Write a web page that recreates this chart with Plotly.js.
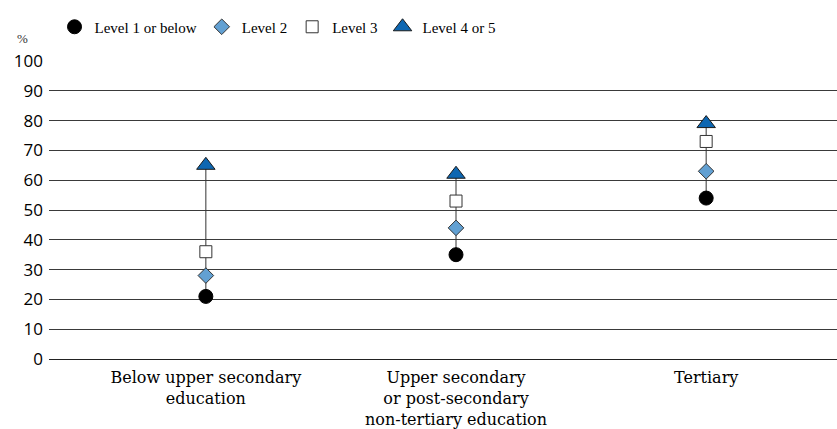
<!DOCTYPE html>
<html>
<head>
<meta charset="utf-8">
<script src="https://cdn.plot.ly/plotly-3.0.1.min.js"></script>
<style>html,body{margin:0;padding:0;background:#fff;}#chart{width:837px;height:429px;}</style>
</head>
<body>
<div id="chart"></div>
<script>
const categories = ['Below upper secondary<br>education', 'Upper secondary<br>or post-secondary<br>non-tertiary education', 'Tertiary'];
const seriesNames = ['Level 1 or below', 'Level 2', 'Level 3', 'Level 4 or 5'];
const level1 = [21, 35, 54];
const level2 = [28, 44, 63];
const level3 = [36, 53, 73];
const level45 = [65, 62, 79];
const yTicks = [0, 10, 20, 30, 40, 50, 60, 70, 80, 90, 100];

const allSeries = [level1, level2, level3, level45];
const lx = [], ly = [];
categories.forEach((c, i) => {
  const vals = allSeries.map(s => s[i]);
  lx.push(c, c, null);
  ly.push(Math.min(...vals), Math.max(...vals), null);
});

const styles = [
  {symbol: 'circle', size: 14, color: '#000000', line: {color: '#000000', width: 1}},
  {symbol: 'diamond', size: 12, color: '#62A0D2', line: {color: '#333333', width: 1}},
  {symbol: 'square', size: 12, color: '#FFFFFF', line: {color: '#333333', width: 1}},
  {symbol: 'triangle-up', size: 16, color: '#0E67B2', line: {color: '#1a1a1a', width: 1}}
];

const traces = [{
  x: lx, y: ly, mode: 'lines', line: {color: '#333333', width: 1},
  showlegend: false, hoverinfo: 'skip'
}];
allSeries.forEach((s, k) => {
  traces.push({
    x: categories, y: s, name: seriesNames[k], type: 'scatter', mode: 'markers',
    marker: styles[k]
  });
});

const layout = {
  width: 837, height: 429,
  margin: {l: 49, r: 0, t: 61, b: 70},
  paper_bgcolor: '#fff', plot_bgcolor: '#fff',
  showlegend: true,
  legend: {
    orientation: 'h', x: 0.29, xanchor: 'center', y: 1.114, yanchor: 'middle',
    font: {family: 'Liberation Serif, serif', size: 15, color: '#000'},
    itemwidth: 30, tracegroupgap: 0, bgcolor: 'rgba(0,0,0,0)'
  },
  xaxis: {
    type: 'category', range: [-0.627, 2.523], showgrid: false, zeroline: false,
    showline: false, ticks: '', ticklabelstandoff: 7,
    tickfont: {family: 'DejaVu Serif', size: 16, color: '#000'}
  },
  yaxis: {
    range: [0, 100], tickvals: yTicks, ticktext: yTicks.map(String),
    showgrid: true, gridcolor: '#3a3a3a', gridwidth: 1,
    zeroline: true, zerolinecolor: '#222222', zerolinewidth: 1,
    showline: false, ticks: '', ticklabelstandoff: 5,
    tickfont: {family: 'Open Sans, DejaVu Sans, sans-serif', size: 17, color: '#000'}
  },
  annotations: [{
    text: '%', xref: 'paper', yref: 'paper', x: -0.034, y: 1.045, xanchor: 'center', yanchor: 'bottom',
    showarrow: false, font: {family: 'Liberation Serif, serif', size: 13, color: '#333'}
  }]
};

Plotly.newPlot('chart', traces, layout, {staticPlot: true, displayModeBar: false});
</script>
</body>
</html>
